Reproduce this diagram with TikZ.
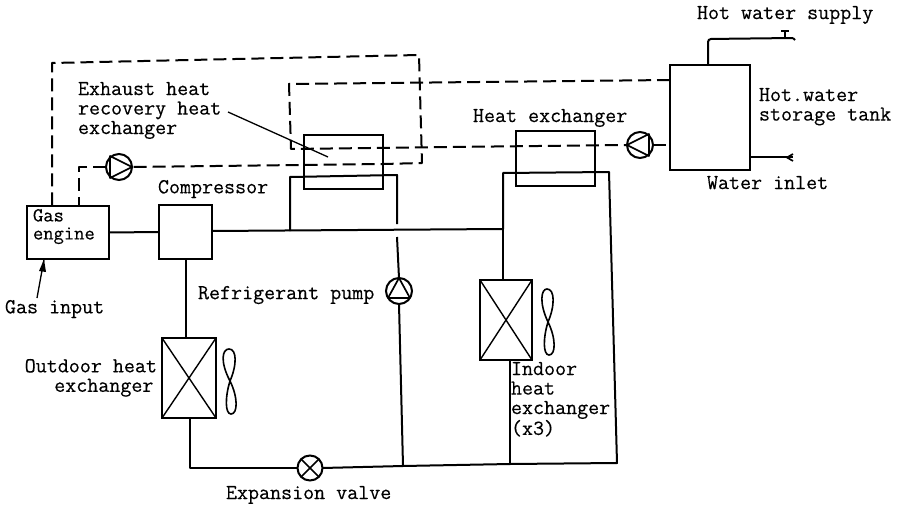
\documentclass[tikz,border=0pt]{standalone}
\usepackage{fontspec}
\newfontfamily\labfont[FakeBold=0.35]{Latin Modern Mono}
\tikzset{
 pipe/.style={line width=2pt,line join=round},
 water/.style={line width=2pt,dash pattern=on 13pt off 6pt,line join=round},
 box/.style={draw,line width=2.2pt,inner sep=0pt,outer sep=0pt},
 circ/.style={draw,circle,line width=2pt,minimum size=26pt,inner sep=0pt,outer sep=0pt,fill=white},
 lab/.style={inner sep=0pt,outer sep=0pt,anchor=north west,align=left,font=\labfont\fontsize{21.4}{19.5}\selectfont},
 thin line/.style={line width=1.4pt},
 fanblade/.style={line width=1.6pt}
}
\begin{document}
\begin{tikzpicture}[x=1pt,y=-1pt]
\useasboundingbox[fill=white] (0,0) rectangle (900,508);
% equipment
\node[box,minimum width=82pt,minimum height=53pt] (engine) at (68,232.5) {};
\node[box,minimum width=53pt,minimum height=54pt] (comp) at (185.5,232) {};
\node[box,minimum width=54pt,minimum height=80pt] (outdoor) at (189,378) {};
\node[box,minimum width=52pt,minimum height=80pt] (indoor) at (506,320) {};
\node[box,minimum width=80pt,minimum height=105pt] (tank) at (710,117.5) {};
\node[box,minimum width=79pt,minimum height=54pt] (ehx) at (343.5,162) {};
\node[box,minimum width=79pt,minimum height=55pt] (hx) at (555.5,158.5) {};
% junctions and bends
\coordinate (a1) at (52,63); \coordinate (a2) at (419,55); \coordinate (a3) at (422,163);
\coordinate (b1) at (79,167);
\coordinate (c1) at (289,84); \coordinate (c2) at (291,149);
\coordinate (d1) at (290,231); \coordinate (d2) at (290,177); \coordinate (d3) at (397,175);
\coordinate (d4) at (397,224); \coordinate (d5) at (397,237);
\coordinate (e0) at (503,229); \coordinate (e1) at (503,173); \coordinate (e2) at (609,172); \coordinate (e3) at (617,463);
\coordinate (f1) at (190,468); \coordinate (f2) at (403,466); \coordinate (f3) at (510,464);
\coordinate (s1) at (708,39); \coordinate (s2) at (793,38); \coordinate (w1) at (793,157);
\coordinate (tap1) at (785,38); \coordinate (tap2) at (785,31);
% pumps and valve
\node[circ] (pa) at (119,167) {};
\node[circ] (pb) at (640,145) {};
\node[circ] (pc) at (399,291) {};
\node[circ,minimum size=25pt] (valve) at (310,468) {};
% dashed water circuits
\draw[water] (52,205.5) -- (a1) -- (a2) -- (a3) -- (383,164) -- (pa.east);
\draw[water] (pa.west) -- (b1) -- (79,205.5);
\draw[water] (670,80) -- (c1) -- (c2) -- (450,147) -- (pb.west);
\draw[water] (pb.east) -- (670,145);
% refrigerant circuit
\draw[pipe] (engine.east) -- (comp.west);
\draw[pipe] (212,231) -- (e0);
\draw[pipe] (d1) -- (d2) -- (d3) -- (d4);
\draw[pipe] (d5) -- (pc.north);
\draw[pipe] (pc.south) -- (f2);
\draw[pipe] (e0) -- (e1) -- (e2) -- (e3) -- (f3) -- (f2) -- (valve.east);
\draw[pipe] (e0) -- (indoor.north -| e0);
\draw[pipe] (indoor.south -| f3) -- (f3);
\draw[pipe] (comp.south) -- (outdoor.north -| comp.south);
\draw[pipe] (outdoor.south -| f1) -- (f1) -- (valve.west);
% water pipes
\draw[pipe,rounded corners=3pt] (s1 |- tank.north) -- (s1) -- (s2);
\draw[pipe] (s2) -- ++(2,2);
\draw[pipe] (tap1) -- (tap2);
\draw[line width=1.7pt] ([xshift=-4pt]tap2) -- ([xshift=4pt]tap2);
\draw[pipe] (tank.east |- w1) -- (w1);
\draw[line width=1.7pt] (793,154) -- (787,157.5) -- (793,161);
% pump and valve symbols
\draw[line width=1.7pt,line join=round] (110,156) -- (132,167) -- (110,178) -- cycle;
\draw[line width=1.7pt,line join=round] (627,145) -- (649,134) -- (649,156) -- cycle;
\draw[line width=1.7pt,line join=round] (399,278) -- (388,298) -- (410,298) -- cycle;
\draw[line width=1.5pt] (valve.45) -- (valve.225) (valve.135) -- (valve.315);
% heat exchanger crosses
\draw[thin line] (outdoor.north west) -- (outdoor.south east) (outdoor.north east) -- (outdoor.south west);
\draw[thin line] (indoor.north west) -- (indoor.south east) (indoor.north east) -- (indoor.south west);
% fans
\draw[fanblade] (230,381) .. controls (220,362) and (222,349) .. (229,349) .. controls (237,349) and (237,365) .. (230,381)
 .. controls (225,397) and (225,414) .. (231,414) .. controls (238,414) and (238,397) .. (230,381);
\draw[fanblade] (548,322) .. controls (539,303) and (541,289) .. (547,289) .. controls (555,289) and (555,306) .. (548,322)
 .. controls (543,338) and (543,355) .. (549,355) .. controls (556,355) and (556,338) .. (548,322);
% labels
\node[lab] (l1) at (697,6) {Hot water supply};
\node[lab] (l2) at (759,88) {Hot.water\\storage tank};
\node[lab] (l4) at (473,109) {Heat exchanger};
\node[lab] (l5) at (707,176) {Water inlet};
\node[lab] (l6) at (78,82) {Exhaust heat\\recovery heat\\exchanger};
\node[lab] (l9) at (158,180) {Compressor};
\node[lab,font=\labfont\fontsize{20}{18}\selectfont] (l10) at (33,209) {Gas\\engine};
\node[lab] (l12) at (5,300) {Gas input};
\node[lab] (l13) at (198,286) {Refrigerant pump};
\node[lab,anchor=north east,align=right] (l14) at (157,359) {Outdoor heat\\exchanger\,};
\node[lab] (l16) at (511,362) {Indoor\\heat\\exchanger\\(x3)};
\node[lab] (l20) at (226,486) {Expansion valve};
% leaders
\coordinate (g1) at (37,298); \coordinate (g2) at (44,259.5);
\draw[line width=1.3pt] (g1) -- (g2);
\fill (g2) -- (39,271) -- (46,272) -- cycle;
\coordinate (h1) at (228,112); \coordinate (h2) at (328,157);
\draw[line width=1.3pt] (h1) -- (h2);
\end{tikzpicture}
\end{document}
